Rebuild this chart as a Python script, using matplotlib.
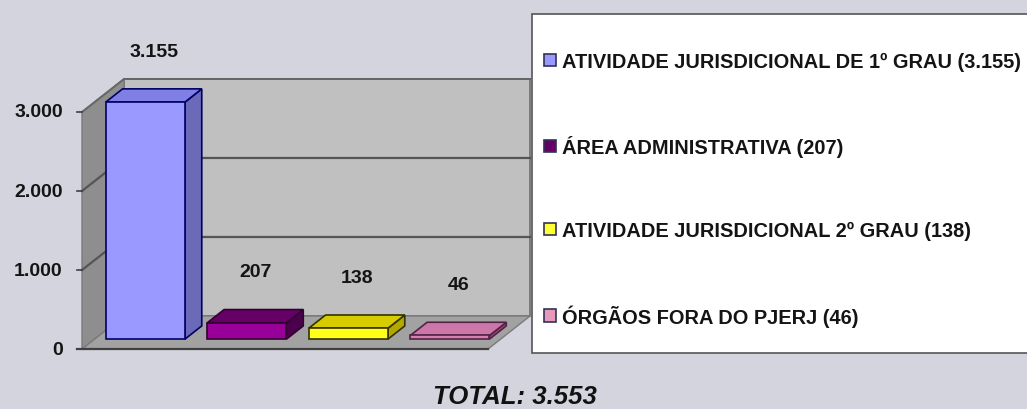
import matplotlib
matplotlib.use("Agg")
import matplotlib.pyplot as plt
from matplotlib.patches import Polygon, Rectangle, Patch

# ---- data ----
categories = ["ATIVIDADE JURISDICIONAL DE 1º GRAU",
              "ÁREA ADMINISTRATIVA",
              "ATIVIDADE JURISDICIONAL 2º GRAU",
              "ÓRGÃOS FORA DO PJERJ"]
values = [3155, 207, 138, 46]
value_labels = ["3.155", "207", "138", "46"]
legend_labels = ["ATIVIDADE JURISDICIONAL DE 1º GRAU (3.155)",
                 "ÁREA ADMINISTRATIVA (207)",
                 "ATIVIDADE JURISDICIONAL 2º GRAU (138)",
                 "ÓRGÃOS FORA DO PJERJ (46)"]
yticks = [0, 1000, 2000, 3000]
ytick_labels = ["0", "1.000", "2.000", "3.000"]
total_label = "TOTAL: 3.553"

# ---- styles ----
front_colors = ["#9999ff", "#990099", "#ffff1a", "#d480b0"]
top_colors = ["#7f7fe6", "#660066", "#d6cc00", "#cc77aa"]
side_colors = ["#6a6ab8", "#4a004a", "#b3a800", "#9a4a78"]
edge_colors = ["#000066", "#330033", "#333300", "#552244"]
legend_face = ["#9999ff", "#660066", "#ffff33", "#e699bb"]

FONT = "Liberation Sans"
W, H = 1027, 410
fig = plt.figure(figsize=(W / 100, H / 100), dpi=100)
fig.patch.set_facecolor("#d4d4de")
ax = fig.add_axes([0, 0, 1, 1])
ax.set_xlim(-1.308, 8.810)
ax.set_ylim(-759, 4430)
ax.axis("off")

ymax = 3000
dxd, dyd = 0.414, 418          # full depth offset (category units, value units)
f0, f1 = 0.30, 0.70             # bar depth range as fraction of depth
bw = 0.78
x_lo, x_hi = -0.5, len(values) - 0.5

# walls and floor
back = Polygon([(x_lo + dxd, dyd), (x_hi + dxd, dyd), (x_hi + dxd, dyd + ymax), (x_lo + dxd, dyd + ymax)],
               closed=True, facecolor="#c0c0c0", edgecolor="#6e6e6e", lw=1.2, zorder=1)
left = Polygon([(x_lo, 0), (x_lo + dxd, dyd), (x_lo + dxd, dyd + ymax), (x_lo, ymax)],
               closed=True, facecolor="#8e8e8e", edgecolor="#7a7a7a", lw=1.0, zorder=1)
floor = Polygon([(x_lo, 0), (x_hi, 0), (x_hi + dxd, dyd), (x_lo + dxd, dyd)],
                closed=True, facecolor="#a2a2a2", edgecolor="#7a7a7a", lw=1.0, zorder=1)
for p in (back, left, floor):
    ax.add_patch(p)

# gridlines on walls
for v in yticks[1:-1]:
    ax.plot([x_lo, x_lo + dxd, x_hi + dxd], [v, v + dyd, v + dyd], color="#555555", lw=1.6, zorder=2)
ax.plot([x_lo, x_lo + dxd, x_hi + dxd], [ymax, ymax + dyd, ymax + dyd], color="#666666", lw=1.4, zorder=2)

# axis line and ticks
ax.plot([x_lo - 0.05, x_hi], [0, 0], color="#404040", lw=1.6, zorder=3)
for v, lab in zip(yticks, ytick_labels):
    ax.plot([x_lo - 0.05, x_lo], [v, v], color="#404040", lw=1.2, zorder=3)
    ax.text(x_lo - 0.19, v, lab, ha="right", va="center", fontsize=14,
            fontweight="bold", family=FONT, color="#141414")

# 3D bars
ddx, ddy = (f1 - f0) * dxd, (f1 - f0) * dyd
for i, v in enumerate(values):
    h = min(v, ymax)
    x0 = i - bw / 2 + f0 * dxd
    y0 = f0 * dyd
    front = Rectangle((x0, y0), bw, h, facecolor=front_colors[i], edgecolor=edge_colors[i], lw=1.2, zorder=5)
    side = Polygon([(x0 + bw, y0), (x0 + bw + ddx, y0 + ddy), (x0 + bw + ddx, y0 + h + ddy), (x0 + bw, y0 + h)],
                   closed=True, facecolor=side_colors[i], edgecolor=edge_colors[i], lw=1.2, zorder=4)
    top = Polygon([(x0, y0 + h), (x0 + bw, y0 + h), (x0 + bw + ddx, y0 + h + ddy), (x0 + ddx, y0 + h + ddy)],
                  closed=True, facecolor=top_colors[i], edgecolor=edge_colors[i], lw=1.2, zorder=4)
    for p in (side, top, front):
        ax.add_patch(p)
    ax.text(i + 0.5 * dxd, h + 0.5 * dyd + 560, value_labels[i], ha="center", va="center",
            fontsize=14, fontweight="bold", family=FONT, color="#141414", zorder=6)

# legend box
fig.patches.append(Rectangle((532 / W, 1 - 354 / H), 1.0, (354 - 15) / H, transform=fig.transFigure,
                             facecolor="white", edgecolor="#555555", lw=1.2, zorder=0))
handles = [Patch(facecolor=legend_face[i], edgecolor="#333355", lw=1.2) for i in range(len(values))]
leg = fig.legend(handles, legend_labels, loc="upper left", bbox_to_anchor=(544 / W, 1 - 53 / H),
                 frameon=False, borderpad=0, borderaxespad=0, handlelength=0.6, handleheight=0.6,
                 handletextpad=0.3, labelspacing=3.2, prop={"family": FONT, "weight": "bold", "size": 14.4})
for t in leg.get_texts():
    t.set_color("#141414")

# total
fig.text(515 / W, 1 - 397 / H, total_label, ha="center", va="center", fontsize=18.5,
         fontweight="bold", fontstyle="italic", family=FONT, color="#111111")

fig.savefig("out.png", dpi=100, facecolor=fig.get_facecolor())
